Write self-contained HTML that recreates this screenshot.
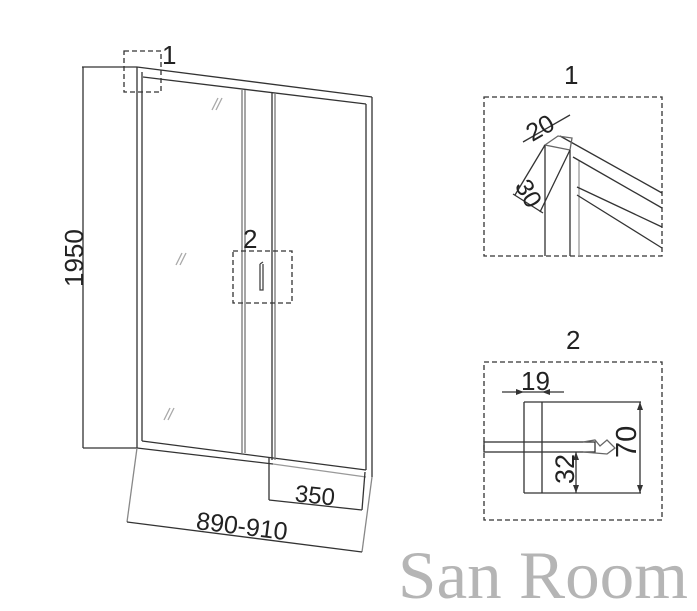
<!DOCTYPE html>
<html><head><style>
html,body{margin:0;padding:0;background:#fff;}
svg{display:block;}
text{font-family:"Liberation Sans",sans-serif;fill:#222;}
</style></head><body>
<svg width="697" height="611" viewBox="0 0 697 611" xmlns="http://www.w3.org/2000/svg">
<g stroke="#333" stroke-width="1.3" fill="none">
<line x1="137" y1="67" x2="137" y2="448"/>
<line x1="142" y1="72" x2="142" y2="441"/>
<line x1="137" y1="67" x2="372" y2="97"/>
<line x1="143" y1="77" x2="366" y2="104"/>
<line x1="372" y1="97" x2="372" y2="477"/>
<line x1="366" y1="104" x2="366" y2="470"/>
<line x1="82" y1="67" x2="137" y2="67"/>
<line x1="83" y1="67" x2="83" y2="448"/>
<line x1="83" y1="448" x2="137" y2="448"/>
<line x1="142" y1="441" x2="366" y2="470"/>
<line x1="137" y1="448" x2="273" y2="464"/>
<line x1="273" y1="464" x2="366" y2="477" stroke="#999"/>
<line x1="242" y1="90" x2="242" y2="453" stroke="#777"/>
<line x1="245" y1="90" x2="245" y2="453" stroke="#777"/>
<line x1="272" y1="93" x2="272" y2="460"/>
<line x1="275" y1="93" x2="275" y2="460" stroke="#777"/>
<line x1="269" y1="457" x2="269" y2="500"/>
<line x1="269" y1="500" x2="362" y2="510"/>
<line x1="365" y1="472" x2="362" y2="510"/>
<line x1="137" y1="448" x2="127" y2="522" stroke="#888"/>
<line x1="372" y1="477" x2="362" y2="552" stroke="#888"/>
<line x1="127" y1="522" x2="362" y2="552"/>
<rect x="124" y="51" width="37" height="41" stroke-dasharray="5,3"/>
<rect x="233" y="251" width="59" height="52" stroke-dasharray="5,3"/>
<path d="M260 264 L263 262 M260 264 L260 290 L263 290 L263 264" stroke="#444"/>
<g stroke="#aaa"><line x1="212" y1="110" x2="218" y2="98"/><line x1="216" y1="110" x2="222" y2="98"/>
<line x1="176" y1="265" x2="182" y2="253"/><line x1="180" y1="265" x2="186" y2="253"/>
<line x1="164" y1="420" x2="170" y2="408"/><line x1="168" y1="420" x2="174" y2="408"/></g>
<rect x="484" y="97" width="178" height="159" stroke-dasharray="5,3"/>
<line x1="545" y1="145" x2="545" y2="256"/>
<line x1="570" y1="150" x2="570" y2="256"/>
<line x1="579" y1="160" x2="579" y2="256" stroke="#999"/>
<line x1="560" y1="136" x2="662" y2="193"/>
<line x1="573" y1="157" x2="662" y2="208"/>
<line x1="577" y1="187" x2="662" y2="227"/>
<line x1="577" y1="195" x2="662" y2="248"/>
<path d="M545 145 L558 136 L572 138 L570 150 Z" stroke="#666"/>
<line x1="523" y1="142" x2="570" y2="115"/>
<line x1="545" y1="145" x2="515" y2="195"/>
<line x1="570" y1="150" x2="540" y2="212"/>
<line x1="513" y1="194" x2="543" y2="213"/>
<rect x="484" y="362" width="178" height="158" stroke-dasharray="5,3"/>
<line x1="524" y1="402" x2="641" y2="402"/>
<line x1="524" y1="402" x2="524" y2="493"/>
<line x1="542" y1="402" x2="542" y2="493"/>
<line x1="524" y1="493" x2="641" y2="493"/>
<rect x="484" y="442" width="111" height="10"/>
<path d="M583 442 L595 440 L600 446 L607 440 L615 448 L607 454 L595 453 L583 452" stroke="#666"/>
<line x1="640" y1="402" x2="640" y2="493"/>
<line x1="576" y1="452" x2="576" y2="493"/>
<line x1="502" y1="392" x2="564" y2="392"/>
</g>
<g fill="#333">
<path d="M640 402 l-3 8 h6z M640 493 l-3 -8 h6z M576 452 l-3 8 h6z M576 493 l-3 -8 h6z M524 392 l-8 -3 v6z M542 392 l8 -3 v6z"/>
</g>
<text x="162" y="64" font-size="26">1</text>
<text x="243" y="248" font-size="26">2</text>
<text x="564" y="84" font-size="26">1</text>
<text x="566" y="349" font-size="26">2</text>
<text font-size="26" transform="translate(83,287) rotate(-90)">1950</text>
<text x="295" y="504" font-size="24" transform="rotate(6 320 495)">350</text>
<text x="196" y="535" font-size="25" transform="rotate(7 245 527)">890-910</text>
<text x="525" y="135" font-size="25" transform="rotate(-30 542 125)">20</text>
<text x="514" y="204" font-size="25" transform="rotate(60 530 195)">30</text>
<text x="521" y="390" font-size="26">19</text>
<text font-size="29" transform="translate(636,458) rotate(-90)">70</text>
<text font-size="27" transform="translate(574,484) rotate(-90)">32</text>
<text x="398" y="598" font-size="68" textLength="290" lengthAdjust="spacingAndGlyphs" style="font-family:'Liberation Serif',serif;fill:#b5b5b5">San Room</text>
</svg>
</body></html>
